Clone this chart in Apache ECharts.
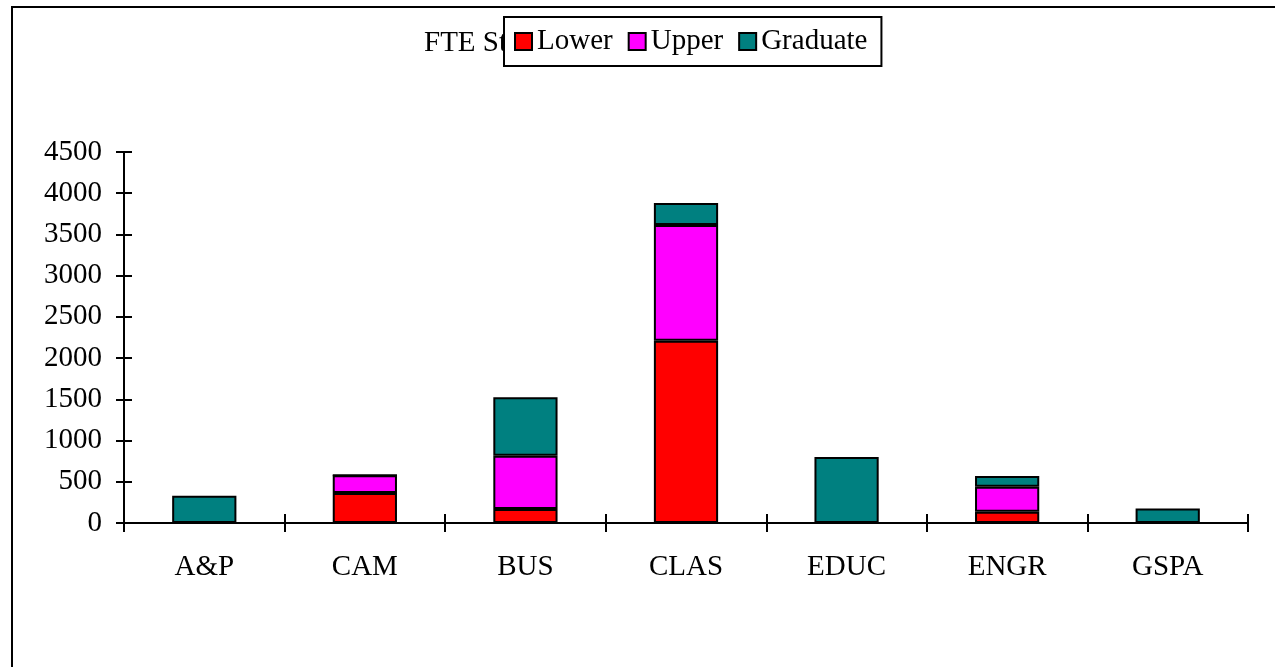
<!DOCTYPE html>
<html>
<head>
<meta charset="utf-8">
<script src="https://cdn.jsdelivr.net/npm/echarts@6/dist/echarts.min.js"></script>
<style>
  html, body { margin: 0; padding: 0; background: #fff; overflow: hidden; }
  #frame { position: absolute; left: 11px; top: 6px; width: 1400px; height: 800px; border: 2px solid #000; box-sizing: border-box; }
  #chart { position: absolute; left: 0; top: 0; width: 1275px; height: 667px; }
  #yline { position: absolute; z-index: 10; width: 2px; background: #000; }
</style>
</head>
<body>
<div id="frame"></div>
<div id="chart"></div>
<div id="yline"></div>
<script>
const colleges = ['A&P', 'CAM', 'BUS', 'CLAS', 'EDUC', 'ENGR', 'GSPA']
const lowerValues = [0, 365, 170, 2210, 0, 135, 0]
const upperValues = [0, 215, 645, 1405, 0, 305, 0]
const graduateValues = [330, 0, 710, 265, 800, 130, 175]
const yTicks = [0, 4500, 500]

const font = 'Liberation Serif, Times New Roman, serif'
const chart = echarts.init(document.getElementById('chart'))

const barStyle = color => ({
  color: color,
  borderColor: '#000',
  borderWidth: 2
})

const makeSeries = (name, data, color) => ({
  name: name,
  type: 'bar',
  stack: 'fte',
  barWidth: '40%',
  data: data,
  itemStyle: barStyle(color),
  emphasis: { disabled: true }
})

const tickStyle = { color: '#000', width: 2 }

chart.setOption({
  animation: false,
  title: {
    text: 'FTE Students by College',
    left: 419,
    top: 24,
    z: 1,
    textStyle: { fontFamily: font, fontSize: 29, fontWeight: 'normal', color: '#000' }
  },
  legend: {
    left: 504,
    top: 17,
    z: 5,
    backgroundColor: '#fff',
    borderColor: '#000',
    borderWidth: 2,
    padding: [10, 14, 10, 10],
    itemGap: 15,
    itemWidth: 17,
    itemHeight: 17,
    icon: 'rect',
    textStyle: { fontFamily: font, fontSize: 29, color: '#000' },
    data: ['Lower', 'Upper', 'Graduate']
  },
  grid: {
    left: 124,
    right: 27,
    top: 152,
    bottom: 144
  },
  xAxis: [
    {
      type: 'category',
      data: colleges,
      position: 'bottom',
      axisLine: { show: true, onZero: false, lineStyle: { color: '#000', width: 2 } },
      axisTick: { show: true, alignWithLabel: false, interval: 0, length: 9, lineStyle: tickStyle },
      axisLabel: { margin: 30, interval: 0, fontFamily: font, fontSize: 29, color: '#000' }
    },
    {
      type: 'category',
      data: colleges,
      position: 'bottom',
      axisLine: { show: false, onZero: false },
      axisTick: { show: true, inside: true, interval: 0, length: 9, lineStyle: tickStyle },
      axisLabel: { show: false }
    }
  ],
  yAxis: [
    {
      type: 'value',
      min: yTicks[0],
      max: yTicks[1],
      interval: yTicks[2],
      position: 'left',
      splitLine: { show: false },
      axisLine: { show: true, onZero: false, lineStyle: { color: '#000', width: 2 } },
      axisTick: { show: true, length: 8, lineStyle: tickStyle },
      axisLabel: { margin: 22, fontFamily: font, fontSize: 29, color: '#000', formatter: v => String(v) }
    },
    {
      type: 'value',
      min: yTicks[0],
      max: yTicks[1],
      interval: yTicks[2],
      position: 'left',
      splitLine: { show: false },
      axisLine: { show: false, onZero: false },
      axisTick: { show: true, inside: true, length: 8, lineStyle: tickStyle },
      axisLabel: { show: false }
    }
  ],
  series: [
    makeSeries('Lower', lowerValues, '#ff0000'),
    makeSeries('Upper', upperValues, '#ff00ff'),
    makeSeries('Graduate', graduateValues, '#008080')
  ]
})

// the value axis line does not show up on the canvas here,
// so place it from the axis scales as a plain element on top
const yBottom = chart.convertToPixel({ yAxisIndex: 0 }, yTicks[0])
const yTop = chart.convertToPixel({ yAxisIndex: 0 }, yTicks[1])
const firstCenter = chart.convertToPixel({ xAxisIndex: 0 }, 0)
const secondCenter = chart.convertToPixel({ xAxisIndex: 0 }, 1)
const axisX = Math.round(firstCenter - (secondCenter - firstCenter) / 2)

const yLine = document.getElementById('yline')
yLine.style.left = (axisX - 1) + 'px'
yLine.style.top = (yTop - 1) + 'px'
yLine.style.height = (yBottom - yTop + 2) + 'px'
</script>
</body>
</html>
